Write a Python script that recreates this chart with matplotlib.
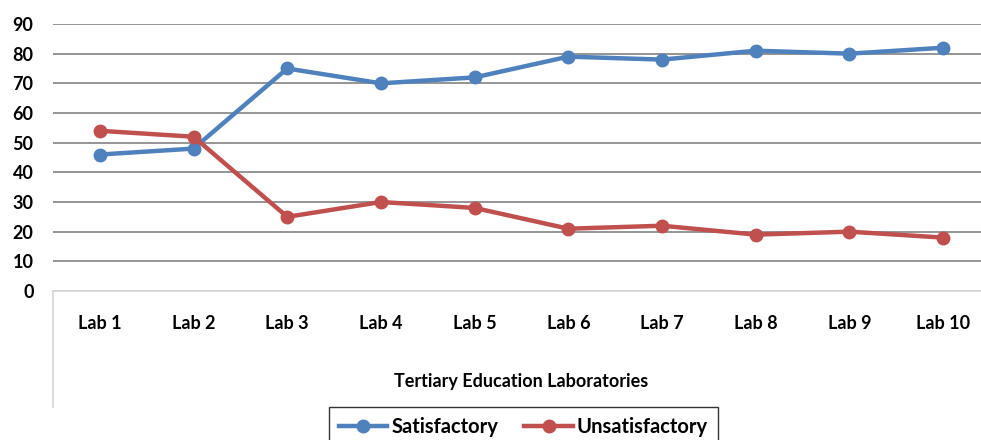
import matplotlib.pyplot as plt
from matplotlib.lines import Line2D

labs = ['Lab 1', 'Lab 2', 'Lab 3', 'Lab 4', 'Lab 5', 'Lab 6', 'Lab 7', 'Lab 8', 'Lab 9', 'Lab 10']
satisfactory = [46, 48, 75, 70, 72, 79, 78, 81, 80, 82]
unsatisfactory = [54, 52, 25, 30, 28, 21, 22, 19, 20, 18]

plt.rcParams['font.family'] = ['Lato', 'DejaVu Sans']
plt.rcParams['font.weight'] = 'bold'

W, H = 981, 440
fig = plt.figure(figsize=(W / 100, H / 100), dpi=100)
# plot area: x 53..990 px, y 24 (90) .. 291 (0)
ax = fig.add_axes([53 / W, 1 - 291 / H, (990 - 53) / W, (291 - 24) / H])

x = range(len(labs))
ax.plot(x, satisfactory, color='#4F81BD', lw=3.2, marker='o', ms=9, label='Satisfactory', zorder=3)
ax.plot(x, unsatisfactory, color='#C0504D', lw=3.2, marker='o', ms=9, label='Unsatisfactory', zorder=3)

ax.set_xlim(-0.5, len(labs) - 0.5)
ax.set_ylim(0, 90)
ax.set_yticks(range(0, 91, 10))
ax.yaxis.grid(True, color='#8c8c8c', lw=1.3)
ax.set_axisbelow(True)
for s in ['top', 'right', 'left']:
    ax.spines[s].set_visible(False)
ax.spines['bottom'].set_color('#d9d9d9')
ax.spines['bottom'].set_linewidth(1.3)
ax.tick_params(axis='both', length=0, labelsize=13)
ax.tick_params(axis='y', pad=14)
ax.tick_params(axis='x', pad=17)
ax.set_xticks(list(x))
ax.set_xticklabels(labs, fontweight='bold')
for t in ax.get_yticklabels():
    t.set_fontweight('bold')

# light vertical line below the axis at the left edge
fig.add_artist(Line2D([53 / W, 53 / W], [1 - 291 / H, 1 - 407 / H], color='#d9d9d9', lw=1.3))

fig.text(521 / W, 1 - 381 / H, 'Tertiary Education Laboratories', ha='center', va='center',
         fontsize=13, fontweight='bold')

leg = fig.legend(loc='upper center', bbox_to_anchor=(523.5 / W, 1 - 407 / H), ncol=2,
                 frameon=True, fancybox=False, fontsize=14.5, handlelength=2.4,
                 handletextpad=0.2, columnspacing=1.3, borderpad=0.5, borderaxespad=0)
leg.get_frame().set_edgecolor('black')
leg.get_frame().set_linewidth(1.0)

fig.savefig('out.png', dpi=100)
